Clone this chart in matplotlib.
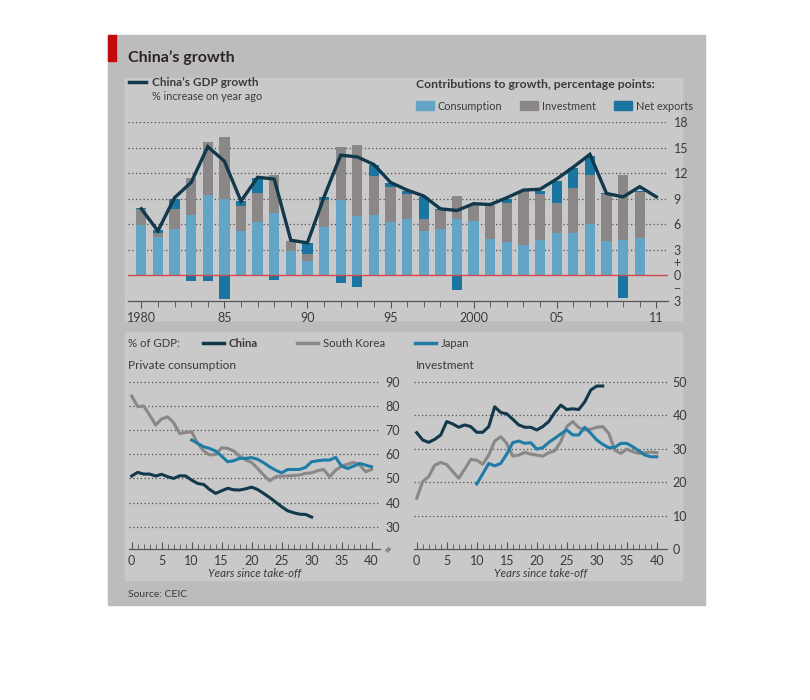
import numpy as np
import matplotlib
matplotlib.use("Agg")
from matplotlib import pyplot as plt
from matplotlib.patches import Rectangle
from matplotlib.lines import Line2D

plt.rcParams['font.family'] = ['Lato', 'DejaVu Sans']

# top chart: contributions to growth, percentage points
bar_years = list(range(1980, 2011))
consumption = [5.9, 4.5, 5.45, 7.1, 9.4, 8.95, 5.2, 6.3, 7.35, 2.85,
               1.7, 5.65, 8.8, 6.9, 7.1, 6.2, 6.6, 5.2, 5.45, 6.65,
               6.4, 4.3, 3.9, 3.6, 4.1, 4.9, 4.9, 6.05, 4.05, 4.15, 4.35]
investment = [1.9, 0.5, 2.35, 4.3, 6.2, 7.25, 2.9, 3.4, 4.45, 1.2,
              0.75, 3.15, 6.25, 8.35, 4.6, 4.2, 2.9, 1.45, 2.2, 2.65,
              1.9, 3.9, 4.55, 6.3, 5.4, 3.6, 5.4, 5.7, 5.5, 7.65, 5.45]
net_exports = [0.1, 0.25, 1.2, -0.65, -0.7, -2.8, 0.65, 1.7, -0.55, -0.1,
               1.35, 0.35, -0.95, -1.35, 1.25, 0.4, 0.45, 2.55, 0.1, -1.75,
               -0.15, -0.05, 0.5, -0.05, 0.4, 2.6, 2.25, 2.25, 0.05, -2.65, 0.15]
gdp_years = list(range(1980, 2012))
gdp = [7.8, 5.2, 9.1, 10.9, 15.1, 13.4, 8.7, 11.5, 11.3, 4.1,
       3.8, 9.2, 14.1, 13.9, 13.0, 10.9, 10.0, 9.3, 7.8, 7.6,
       8.4, 8.3, 9.1, 10.0, 10.1, 11.3, 12.7, 14.2, 9.6, 9.2, 10.4, 9.2]
top_ticks = [1980, 1985, 1990, 1995, 2000, 2005, 2011]
top_ticklabels = ['1980', '85', '90', '95', '2000', '05', '11']

# bottom charts: % of GDP, years since take-off
cons_china = [51.0, 52.5, 51.8, 51.8, 51.0, 51.7, 50.7, 50.0, 51.1, 51.0,
              49.3, 47.9, 47.5, 45.4, 43.8, 44.9, 45.9, 45.3, 45.2, 45.7,
              46.4, 45.4, 43.8, 42.1, 40.2, 38.3, 36.6, 35.8, 35.2, 35.1, 34.0]
cons_korea = [84.1, 79.7, 79.9, 76.2, 72.1, 74.6, 75.5, 73.0, 68.6, 69.0,
              69.3, 64.5, 61.4, 59.7, 59.9, 62.7, 62.4, 61.4, 59.2, 57.6,
              56.6, 54.1, 51.4, 49.0, 50.7, 51.0, 51.0, 51.2, 51.4, 52.1,
              52.3, 53.2, 53.7, 50.7, 53.4, 55.1, 55.9, 56.6, 55.5, 52.8, 53.7]
cons_japan = [65.9, 64.5, 63.1, 62.4, 61.3, 59.2, 56.9, 57.3, 58.3, 58.3,
              58.6, 57.9, 56.5, 54.8, 53.4, 52.3, 53.7, 53.7, 53.7, 54.6,
              56.9, 57.3, 57.6, 57.6, 58.7, 55.1, 54.1, 55.1, 56.2, 55.5, 54.8]
inv_china = [34.8, 32.6, 31.9, 32.8, 34.1, 38.1, 37.4, 36.4, 37.1, 36.6,
             34.9, 34.9, 36.6, 42.5, 40.8, 40.4, 38.8, 37.1, 36.4, 36.4,
             35.6, 36.6, 38.1, 40.8, 43.0, 41.7, 41.9, 41.7, 44.0, 47.5, 48.7, 48.7]
inv_korea = [15.2, 20.2, 21.7, 25.1, 25.9, 25.3, 23.2, 21.2, 23.9, 26.8,
             26.6, 25.4, 28.1, 32.3, 33.6, 31.6, 27.8, 28.1, 28.9, 28.4,
             28.1, 27.8, 28.8, 29.4, 32.1, 36.6, 38.1, 36.3, 35.6, 35.8,
             36.4, 36.6, 34.6, 29.6, 28.6, 29.9, 29.1, 28.6, 28.8, 29.0, 28.8]
inv_japan = [19.5, 22.5, 25.6, 24.9, 25.6, 28.4, 31.8, 32.3, 31.6, 31.8,
             29.9, 30.3, 31.9, 33.1, 34.4, 35.6, 34.1, 34.1, 36.4, 34.6,
             32.6, 31.3, 30.3, 30.4, 31.6, 31.6, 30.6, 29.4, 28.1, 27.6, 27.6]
japan_start = 10

# colours (as they look under the grey veil)
frame_col = '#bcbcbc'
panel_col = '#c9c9c9'
c_cons = '#63a5c5'
c_inv = '#8b8787'
c_nx = '#1a76a0'
c_dark = '#11384b'
c_grey = '#8a8787'
c_blue = '#1f7ca6'
txt = '#3a3a3a'
grid_col = '#505050'

fig = plt.figure(figsize=(8.1, 7.0), dpi=100)
W, H = 810, 700


def fx(px):
    return px / W


def fy(py):
    return 1 - py / H


# backgrounds
fig.patches.append(Rectangle((fx(108), fy(605)), fx(705) - fx(108), fy(35) - fy(605),
                             transform=fig.transFigure, color=frame_col, zorder=-3))
fig.patches.append(Rectangle((fx(125), fy(320)), fx(682) - fx(125), fy(78) - fy(320),
                             transform=fig.transFigure, color=panel_col, zorder=-2))
fig.patches.append(Rectangle((fx(125), fy(580)), fx(682) - fx(125), fy(332) - fy(580),
                             transform=fig.transFigure, color=panel_col, zorder=-2))
fig.patches.append(Rectangle((fx(108), fy(61)), fx(116) - fx(108), fy(35) - fy(61),
                             transform=fig.transFigure, color='#c20a0a', zorder=-1))

fig.text(fx(128), fy(62), 'China\u2019s growth', fontsize=11.5, fontweight='bold',
         color='#2e2424', va='baseline')

# ---- top chart ----
ax = fig.add_axes([fx(128), fy(300.7), fx(668) - fx(128), fy(122) - fy(300.7)])
ax.set_facecolor('none')
ax.set_xlim(1979.2, 2011.7)
ax.set_ylim(-3, 18)

x = np.array(bar_years)
cons = np.array(consumption)
inv = np.array(investment)
nx = np.array(net_exports)
bw = 0.62
ax.bar(x, cons, bw, color=c_cons, zorder=2)
ax.bar(x, inv, bw, bottom=cons, color=c_inv, zorder=2)
nx_bottom = np.where(nx > 0, cons + inv, 0)
ax.bar(x, nx, bw, bottom=nx_bottom, color=c_nx, zorder=2)
ax.axhline(0, color='#d24a4c', lw=1.0, zorder=3)
ax.plot(gdp_years, gdp, color=c_dark, lw=2.4, zorder=4, solid_joinstyle='miter')

for v in [3, 6, 9, 12, 15, 18]:
    ax.axhline(v, color=grid_col, lw=0.9, ls=(0, (1, 2)), zorder=1)

for s in ['top', 'right', 'left']:
    ax.spines[s].set_visible(False)
ax.spines['bottom'].set_color('#555555')
ax.spines['bottom'].set_linewidth(0.9)
ax.set_xticks(top_ticks)
ax.set_xticklabels(top_ticklabels)
ax.set_xticks(bar_years + [2011], minor=True)
ax.tick_params(axis='x', which='both', direction='out', length=4, color='#555555',
               labelsize=9, labelcolor=txt, pad=3)
ax.tick_params(axis='x', which='major', length=5)
ax.yaxis.tick_right()
ax.set_yticks([-3, -1.5, 0, 1.5, 3, 6, 9, 12, 15, 18])
ax.set_yticklabels(['3', '\u2212', '0', '+', '3', '6', '9', '12', '15', '18'])
ax.tick_params(axis='y', length=0, labelsize=9, labelcolor=txt, pad=4)

# top legends
fig.lines.append(Line2D([fx(129), fx(146)], [fy(82), fy(82)], transform=fig.transFigure,
                        color=c_dark, lw=2.5))
fig.text(fx(152), fy(86.5), 'China\u2019s GDP growth', fontsize=8.5, fontweight='bold',
         color=txt, va='baseline')
fig.text(fx(152), fy(100), '% increase on year ago', fontsize=7.8, color=txt, va='baseline')
fig.text(fx(416), fy(88), 'Contributions to growth, percentage points:', fontsize=8.8,
         fontweight='bold', color=txt, va='baseline')
for lab, col, px in [('Consumption', c_cons, 416), ('Investment', c_inv, 520),
                     ('Net exports', c_nx, 614)]:
    fig.patches.append(Rectangle((fx(px), fy(110)), fx(18), fy(101) - fy(110),
                                 transform=fig.transFigure, color=col))
    fig.text(fx(px + 22), fy(109.5), lab, fontsize=7.8, color=txt, va='baseline')

# ---- bottom legend ----
fig.text(fx(128), fy(347), '% of GDP:', fontsize=8.2, color=txt, va='baseline')
for lab, col, px, w in [('China', c_dark, 203, 'bold'), ('South Korea', c_grey, 297, 'normal'),
                        ('Japan', c_blue, 415, 'normal')]:
    fig.lines.append(Line2D([fx(px), fx(px + 21)], [fy(343), fy(343)],
                            transform=fig.transFigure, color=col, lw=2.5))
    fig.text(fx(px + 26), fy(347), lab, fontsize=8.2, color=txt, fontweight=w,
             va='baseline')
fig.text(fx(128), fy(369), 'Private consumption', fontsize=8.6, color=txt, va='baseline')
fig.text(fx(416), fy(369), 'Investment', fontsize=8.6, color=txt, va='baseline')


def small_panel(rect, xlim, ylim, yticks, grid_vals):
    a = fig.add_axes(rect)
    a.set_facecolor('none')
    a.set_xlim(*xlim)
    a.set_ylim(*ylim)
    for v in grid_vals:
        a.axhline(v, color=grid_col, lw=0.9, ls=(0, (1, 2)), zorder=1)
    for s in ['top', 'right', 'left']:
        a.spines[s].set_visible(False)
    a.spines['bottom'].set_color('#555555')
    a.spines['bottom'].set_linewidth(0.9)
    a.set_xticks(range(0, 41, 5))
    a.set_xticks(range(0, 41), minor=True)
    a.tick_params(axis='x', which='minor', direction='in', length=3.5, color='#555555')
    a.tick_params(axis='x', which='major', direction='in', length=5, color='#555555',
                  labelsize=9, labelcolor=txt, pad=4)
    a.yaxis.tick_right()
    a.set_yticks(yticks)
    a.tick_params(axis='y', length=0, labelsize=9, labelcolor=txt, pad=4)
    a.set_xlabel('Years since take-off', fontsize=8.2, style='italic', color=txt,
                 labelpad=1)
    return a


ax1 = small_panel([fx(129), fy(549), fx(380) - fx(129), fy(381) - fy(549)],
                  (-0.45, 41.4), (20.8, 90.3), [30, 40, 50, 60, 70, 80, 90],
                  [30, 40, 50, 60, 70, 80, 90])
ax1.plot(range(len(cons_korea)), cons_korea, color=c_grey, lw=2.2, zorder=3)
ax1.plot(range(japan_start, japan_start + len(cons_japan)), cons_japan, color=c_blue,
         lw=2.2, zorder=4)
ax1.plot(range(len(cons_china)), cons_china, color=c_dark, lw=2.2, zorder=5)
ax1.text(1.035, 0.0, '\u2248', transform=ax1.transAxes, rotation=60, fontsize=10,
         color='#444444', ha='center', va='center')

ax2 = small_panel([fx(414), fy(549.3), fx(667) - fx(414), fy(381) - fy(549.3)],
                  (-0.45, 41.7), (0, 50.2), [0, 10, 20, 30, 40, 50],
                  [10, 20, 30, 40, 50])
ax2.plot(range(len(inv_korea)), inv_korea, color=c_grey, lw=2.2, zorder=3)
ax2.plot(range(japan_start, japan_start + len(inv_japan)), inv_japan, color=c_blue,
         lw=2.2, zorder=4)
ax2.plot(range(len(inv_china)), inv_china, color=c_dark, lw=2.2, zorder=5)

fig.text(fx(128), fy(597), 'Source: CEIC', fontsize=7.5, color=txt, va='baseline')

fig.savefig('out.png', dpi=100)
